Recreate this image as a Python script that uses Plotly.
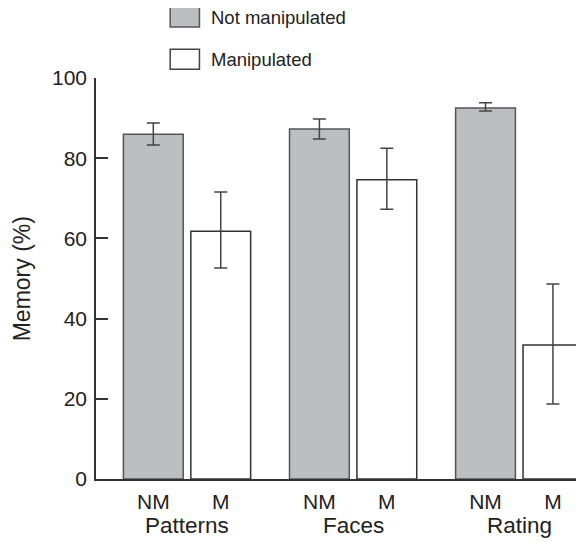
import plotly.graph_objects as go

categories = ["Patterns", "Faces", "Rating"]
bar_labels = ["NM", "M"]
series_names = ["Not manipulated", "Manipulated"]

nm_values = [86.0, 87.3, 92.5]
nm_err_plus = [2.8, 2.5, 1.3]
nm_err_minus = [2.7, 2.5, 0.7]

m_values = [61.8, 74.6, 33.4]
m_err_plus = [9.8, 7.9, 15.2]
m_err_minus = [9.2, 7.3, 14.7]

y_ticks = [0, 20, 40, 60, 80, 100]

FONT = "Liberation Sans, Arial, Helvetica, sans-serif"
GRAY = "#bdbec2"
offset = 0.203
width = 0.36

groups = list(range(len(categories)))
x_nm = [g - offset for g in groups]
x_m = [g + offset for g in groups]

fig = go.Figure()
fig.add_trace(go.Bar(
    x=x_nm, y=nm_values, width=width, name=series_names[0],
    marker=dict(color=GRAY, line=dict(color="#555555", width=1.5)),
    error_y=dict(type="data", symmetric=False, array=nm_err_plus, arrayminus=nm_err_minus,
                 color="#444444", thickness=1.5, width=6.5),
    showlegend=False,
))
fig.add_trace(go.Bar(
    x=x_m, y=m_values, width=width, name=series_names[1],
    marker=dict(color="white", line=dict(color="#333333", width=1.5)),
    error_y=dict(type="data", symmetric=False, array=m_err_plus, arrayminus=m_err_minus,
                 color="#444444", thickness=1.5, width=6.5),
    showlegend=False,
))

tickvals = []
ticktext = []
for g in groups:
    tickvals += [g - offset, g + offset]
    ticktext += bar_labels

# the page body adds an 8px margin, so the figure is 8px smaller and shifted
fig.update_layout(
    width=576, height=534,
    margin=dict(l=88, r=0, t=70, b=63),
    paper_bgcolor="white", plot_bgcolor="white",
    font=dict(family=FONT, color="#222222", size=20),
    barmode="overlay",
    xaxis=dict(
        range=[-0.548, 2.39], showgrid=False, zeroline=False,
        showline=True, linecolor="#333333", linewidth=1.5,
        tickvals=tickvals, ticktext=ticktext, ticks="",
        tickfont=dict(size=21), ticklabelstandoff=3,
    ),
    yaxis=dict(
        range=[0, 100], showgrid=False, zeroline=False,
        showline=True, linecolor="#333333", linewidth=1.5,
        tickvals=y_ticks, ticks="inside", ticklen=12, tickcolor="#333333", tickwidth=1.5,
        tickfont=dict(size=21), ticklabelstandoff=3,
    ),
)

# group labels
for g, name in zip(groups, categories):
    fig.add_annotation(x=g, y=-0.117, xref="x", yref="paper", text=name, showarrow=False,
                       font=dict(size=22.5), xanchor="center", yanchor="middle")

# y title
fig.add_annotation(x=-0.152, y=0.5, xref="paper", yref="paper", text="Memory (%)",
                   textangle=-90, showarrow=False, font=dict(size=23),
                   xanchor="center", yanchor="middle")

# legend (drawn manually)
legend_items = [(series_names[0], GRAY, "#555555", 1.177, 1.127),
                (series_names[1], "white", "#444444", 1.072, 1.022)]
for name, fill, line, y1, y0 in legend_items:
    fig.add_shape(type="rect", xref="paper", yref="paper", x0=0.152, x1=0.212, y0=y0, y1=y1,
                  fillcolor=fill, line=dict(color=line, width=1.5))
    fig.add_annotation(x=0.2325, y=(y0 + y1) / 2, xref="paper", yref="paper", text=name,
                       showarrow=False, xanchor="left", yanchor="middle", font=dict(size=18.5))

fig.write_html("out.html")
